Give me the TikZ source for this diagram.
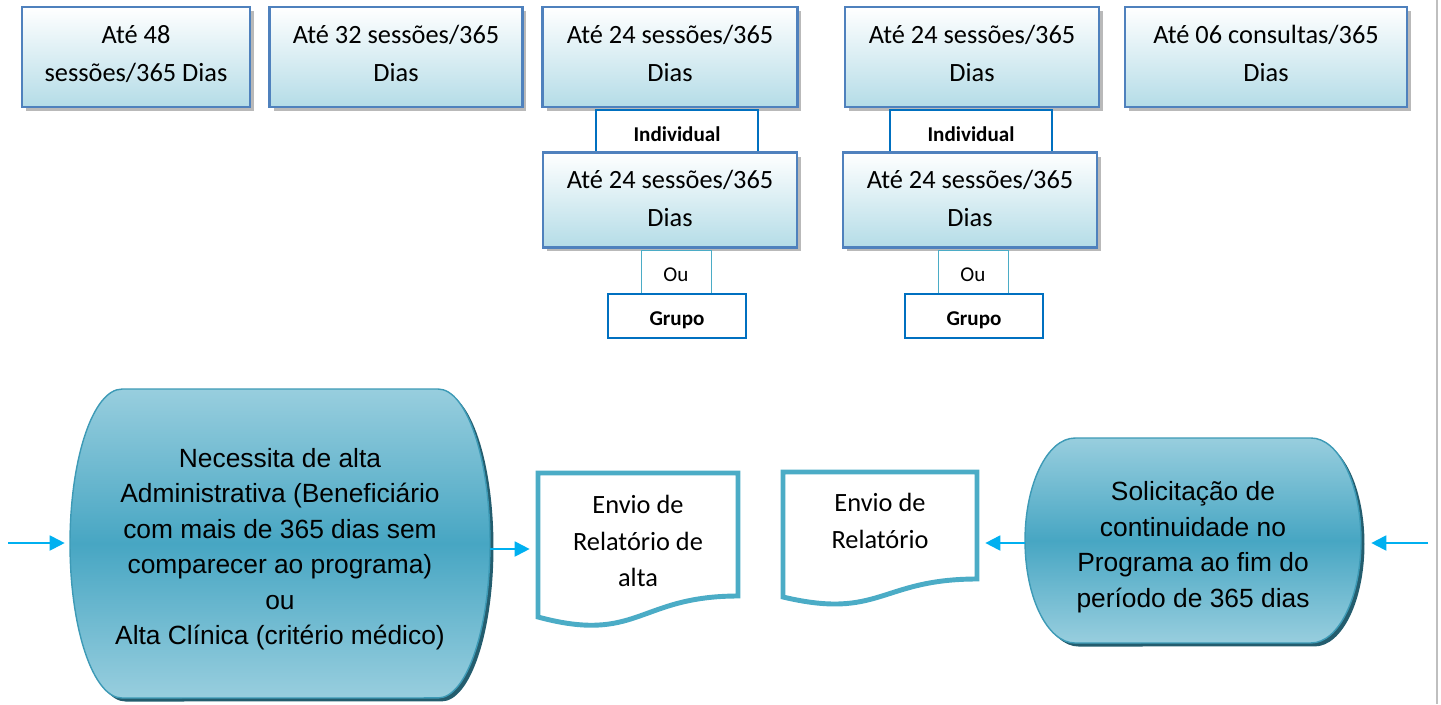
\documentclass[tikz,border=0pt]{standalone}
\usepackage{fontspec}
\setmainfont{Carlito}
\newfontfamily\arialfont{Liberation Sans}
\usetikzlibrary{shapes,arrows.meta,positioning,shadows,calc}

\definecolor{boxblue}{HTML}{4F81BD}
\definecolor{boxfill}{HTML}{B4DCE7}
\definecolor{tagblue}{HTML}{0070C0}
\definecolor{docteal}{HTML}{4BACC6}
\definecolor{capsdark}{HTML}{47A6C3}
\definecolor{capslight}{HTML}{98CEDE}
\definecolor{capsline}{HTML}{3D9AB6}
\definecolor{capshadow}{HTML}{245D6E}
\definecolor{arrowblue}{HTML}{00B0F0}

\begin{document}
\begin{tikzpicture}[
    x=0.02cm, y=-0.02cm,
    box/.style={rectangle, draw=boxblue, line width=1.3pt, top color=white, bottom color=boxfill, align=center, inner sep=0pt, text depth=4.5pt, font=\fontsize{15}{21.6}\selectfont, general shadow={fill=gray!55, shadow xshift=0.08cm, shadow yshift=-0.08cm}},
    tag/.style={rectangle, draw=tagblue, line width=0.9pt, fill=white, align=center, inner sep=0pt, minimum height=0.87cm, text height=0.38cm, text depth=0cm, font=\fontsize{12}{14}\selectfont\bfseries},
    ou/.style={rectangle, draw=docteal, line width=0.5pt, fill=white, minimum width=1.4cm, minimum height=0.88cm, inner sep=0pt, text height=0.38cm, text depth=0cm, font=\fontsize{12}{14}\selectfont},
    caps/.style={draw=capsline, line width=0.8pt, top color=capslight, bottom color=capslight, middle color=capsdark},
    captext/.style={align=center, inner sep=0pt, font=\arialfont\fontsize{15}{20.2}\selectfont},
    docline/.style={draw=docteal, line width=2.8pt, fill=white},
    doctext/.style={align=center, inner sep=0pt, font=\fontsize{15}{21}\selectfont},
    arrow/.style={-{Triangle[length=0.3cm, width=0.3cm]}, draw=arrowblue, line width=1.1pt}
]
\useasboundingbox (0,0) rectangle (1441,704);

% top row
\node[box, minimum width=4.56cm, minimum height=2cm] (b1) at (136,57) {Até 48\\sessões/365 Dias};
\node[box, minimum width=5.06cm, minimum height=2cm] (b2) at (396,57) {Até 32 sessões/365\\Dias};
\node[box, minimum width=5.1cm, minimum height=2cm] (b3) at (670,57) {Até 24 sessões/365\\Dias};
\node[box, minimum width=5.08cm, minimum height=2cm] (b4) at (972,57) {Até 24 sessões/365\\Dias};
\node[box, minimum width=5.64cm, minimum height=2cm] (b5) at (1266,57) {Até 06 consultas/365\\Dias};

% stacked columns
\node[tag, minimum width=3.24cm] (ind1) at (677,132) {Individual};
\node[tag, minimum width=3.24cm] (ind2) at (971,132) {Individual};
\node[box, minimum width=5.08cm, minimum height=1.9cm, text depth=2pt] (mid1) at (670,200) {Até 24 sessões/365\\Dias};
\node[box, minimum width=5.08cm, minimum height=1.9cm, text depth=2pt] (mid2) at (970,200) {Até 24 sessões/365\\Dias};
\node[ou] (ou1) at (676,272) {Ou};
\node[ou] (ou2) at (973,272) {Ou};
\node[tag, minimum width=2.76cm] (grp1) at (677,316) {Grupo};
\node[tag, minimum width=2.76cm] (grp2) at (974,316) {Grupo};

% bottom capsules
\fill[capshadow, xshift=0.07cm, yshift=-0.07cm] (122,389) -- (438,389) arc[start angle=90, end angle=-90, x radius=1.04cm, y radius=3.09cm] -- (122,698) arc[start angle=270, end angle=90, x radius=1.04cm, y radius=3.09cm] -- cycle;
\path[caps] (122,389) -- (438,389) arc[start angle=90, end angle=-90, x radius=1.04cm, y radius=3.09cm] -- (122,698) arc[start angle=270, end angle=90, x radius=1.04cm, y radius=3.09cm] -- cycle;
\node[captext, minimum width=8.4cm, minimum height=6.18cm] (alta) at (280,549) {Necessita de alta\\Administrativa (Beneficiário\\com mais de 365 dias sem\\comparecer ao programa)\\ou\\Alta Clínica (critério médico)};

\fill[capshadow, xshift=0.07cm, yshift=-0.07cm] (1075,438) -- (1311,438) arc[start angle=90, end angle=-90, x radius=1cm, y radius=2.05cm] -- (1075,643) arc[start angle=270, end angle=90, x radius=1cm, y radius=2.05cm] -- cycle;
\path[caps] (1075,438) -- (1311,438) arc[start angle=90, end angle=-90, x radius=1cm, y radius=2.05cm] -- (1075,643) arc[start angle=270, end angle=90, x radius=1cm, y radius=2.05cm] -- cycle;
\node[captext, minimum width=6.72cm, minimum height=4.1cm] (cont) at (1193,547) {Solicitação de\\continuidade no\\Programa ao fim do\\período de 365 dias};

% documents
\draw[docline] (538,473) -- (738,473) -- (738,596) .. controls (638,596) and (638,644) .. (538,617) -- cycle;
\node[doctext, minimum width=4cm] (doc1) at (638,541) {Envio de\\Relatório de\\alta};
\draw[docline] (783,472) -- (977,472) -- (977,579) .. controls (880,579) and (880,620) .. (783,597) -- cycle;
\node[doctext, minimum width=3.88cm] (doc2) at (880,521) {Envio de\\Relatório};

% connectors
\coordinate (inL) at (8,543);
\coordinate (inR) at (1428,543);
\draw[arrow, shorten >=0.1cm] (inL) -- (inL -| alta.west);
\draw[arrow, shorten >=0.16cm] (alta.east) -- (alta.east -| doc1.west);
\draw[arrow, shorten >=0.16cm] ([yshift=0.08cm]cont.west) -- ([yshift=0.08cm]cont.west -| doc2.east);
\draw[arrow, shorten >=0.2cm] (inR) -- (inR -| cont.east);

\draw[gray!50, line width=0.6pt] (1437,0) -- (1437,704);
\end{tikzpicture}
\end{document}
